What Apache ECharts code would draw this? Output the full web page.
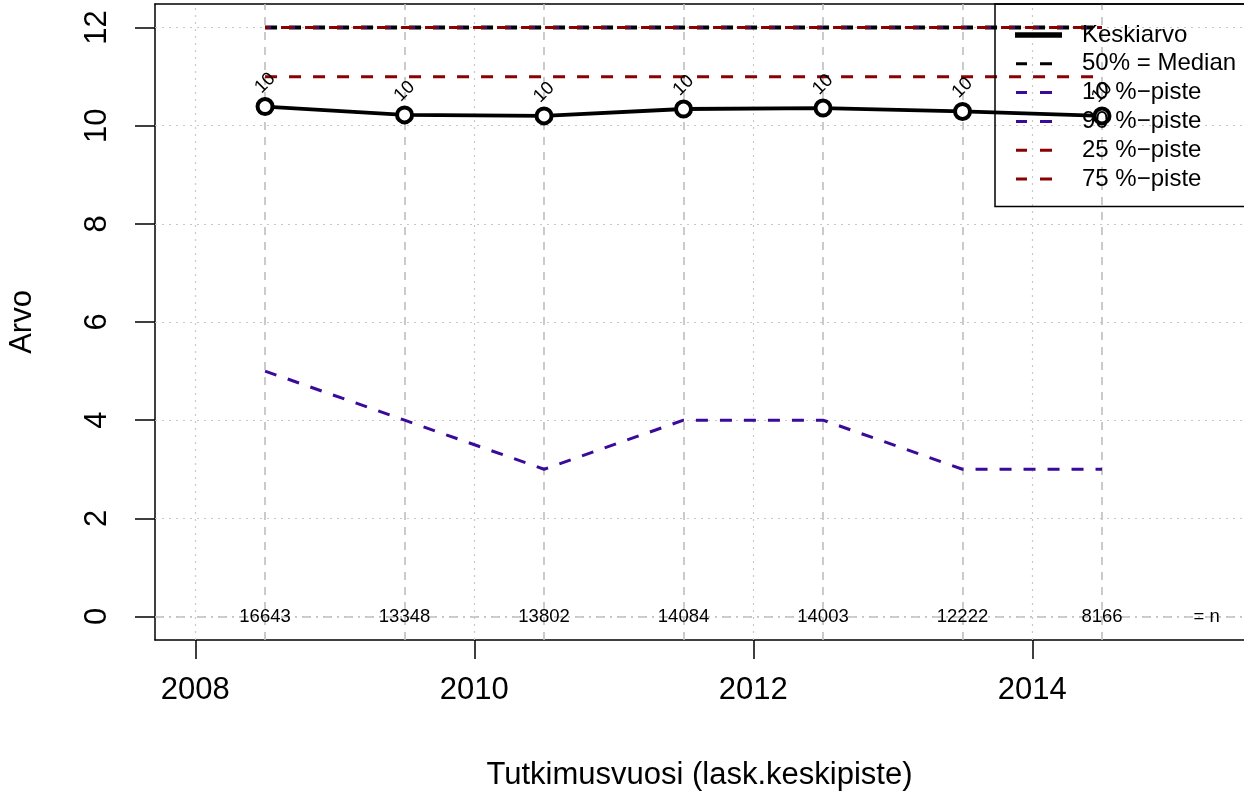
<!DOCTYPE html>
<html>
<head>
<meta charset="utf-8">
<script src="https://cdn.jsdelivr.net/npm/echarts@6/dist/echarts.min.js"></script>
<style>
html,body{margin:0;padding:0;background:#fff;}
#chart{width:1244px;height:794px;}
</style>
</head>
<body>
<div id="chart"></div>
<script>
// ---- data ----
const years = [2008.5, 2009.5, 2010.5, 2011.5, 2012.5, 2013.5, 2014.5];
const meanValues = [10.39, 10.22, 10.20, 10.34, 10.36, 10.29, 10.20];
const medianValues = [12, 12, 12, 12, 12, 12, 12];
const p10Values = [5, 4, 3, 4, 4, 3, 3];
const p90Values = [12, 12, 12, 12, 12, 12, 12];
const p25Values = [11, 11, 11, 11, 11, 11, 11];
const p75Values = [12, 12, 12, 12, 12, 12, 12];
const pointLabels = ['10', '10', '10', '10', '10', '10', '10'];
const nCounts = [16643, 13348, 13802, 14084, 14003, 12222, 8166];
const nSuffixX = 2015.25;
const nSuffixText = '= n';
const xTicks = [2008, 2010, 2012, 2014];
const yTicks = [0, 2, 4, 6, 8, 10, 12];
const xRange = [2007.711, 2015.518];
const yRange = [-0.48, 12.48];

const FONT = "'Liberation Sans', Arial, Helvetica, sans-serif";
const BLUE = '#3a0a9a';
const RED = '#8b0000';

const pairs = vals => years.map((x, i) => [x, vals[i]]);

const chart = echarts.init(document.getElementById('chart'), null, {renderer: 'canvas'});

const dashIcon = 'path://M0,0M62,6M1,1.5h11v3h-11zM25,1.5h12v3h-12z';
const solidIcon = 'path://M0,0M62,6M0,0.2h47v5.6h-47z';

const option = {
  animation: false,
  backgroundColor: '#fff',
  textStyle: {fontFamily: FONT},
  grid: {left: 155, right: 0, top: 4, bottom: 154, containLabel: false, outerBoundsMode: 'none'},
  legend: {
    orient: 'vertical',
    left: 995, top: 4,
    padding: [19, 40, 15.5, 20],
    itemWidth: 62, itemHeight: 6, itemGap: 4.8,
    borderColor: '#000', borderWidth: 1.5,
    backgroundColor: 'transparent',
    selectedMode: false,
    textStyle: {fontFamily: FONT, fontSize: 24, lineHeight: 24, color: '#000'},
    data: [
      {name: 'Keskiarvo', icon: solidIcon, itemStyle: {color: '#000', borderWidth: 0}},
      {name: '50% = Median', icon: dashIcon, itemStyle: {color: '#000', borderWidth: 0}},
      {name: '10 %\u2212piste', icon: dashIcon, itemStyle: {color: BLUE, borderWidth: 0}},
      {name: '90 %\u2212piste', icon: dashIcon, itemStyle: {color: BLUE, borderWidth: 0}},
      {name: '25 %\u2212piste', icon: dashIcon, itemStyle: {color: RED, borderWidth: 0}},
      {name: '75 %\u2212piste', icon: dashIcon, itemStyle: {color: RED, borderWidth: 0}}
    ]
  },
  xAxis: [{
    type: 'value', min: xRange[0], max: xRange[1],
    name: 'Tutkimusvuosi (lask.keskipiste)', nameLocation: 'middle', nameGap: 120,
    nameTextStyle: {fontFamily: FONT, fontSize: 31, color: '#000'},
    axisLine: {show: true, onZero: false, lineStyle: {color: '#000', width: 1.5}},
    axisTick: {show: true, length: 19, customValues: xTicks, lineStyle: {color: '#000', width: 1.5}},
    axisLabel: {show: true, customValues: xTicks, margin: 35, fontFamily: FONT, fontSize: 31, color: '#000',
      formatter: v => String(v)},
    splitLine: {show: false}
  }, {
    type: 'value', position: 'top', min: xRange[0], max: xRange[1],
    axisLine: {show: true, onZero: false, lineStyle: {color: '#000', width: 1.5}},
    axisTick: {show: false}, axisLabel: {show: false}, splitLine: {show: false}
  }],
  yAxis: {
    type: 'value', min: yRange[0], max: yRange[1],
    name: 'Arvo', nameLocation: 'middle', nameGap: 117,
    nameTextStyle: {fontFamily: FONT, fontSize: 31, color: '#000'},
    axisLine: {show: true, onZero: false, lineStyle: {color: '#000', width: 1.5}},
    axisTick: {show: true, length: 20, customValues: yTicks, lineStyle: {color: '#000', width: 1.5}},
    axisLabel: {show: true, customValues: yTicks, rotate: 90, margin: 42, fontFamily: FONT, fontSize: 31, color: '#000'},
    splitLine: {show: false}
  },
  series: [
    {
      name: 'gridlines', type: 'line', data: [], silent: true, z: 1,
      markLine: {
        silent: true, symbol: ['none', 'none'], z: 1, animation: false,
        label: {show: false},
        data: [
          ...yTicks.map(v => ({yAxis: v, lineStyle: {color: '#c8c8c8', width: 1.2, type: [2, 5]}})),
          ...xTicks.map(v => ({xAxis: v, lineStyle: {color: '#c8c8c8', width: 1.2, type: [2, 5]}})),
          ...years.map(v => ({xAxis: v, lineStyle: {color: '#bebebe', width: 1.6, type: [8, 7]}})),
          {yAxis: 0, lineStyle: {color: '#bebebe', width: 1.5, type: [9, 5, 2, 5]}}
        ]
      }
    },
    {
      name: 'Keskiarvo', type: 'line', data: pairs(meanValues), z: 3,
      symbol: 'circle', symbolSize: 15,
      lineStyle: {color: '#000', width: 3.8, type: 'solid'},
      itemStyle: {color: '#fff', borderColor: '#000', borderWidth: 4},
      label: {
        show: true, position: ['50%', -14], rotate: 45, align: 'center', verticalAlign: 'middle',
        fontFamily: FONT, fontSize: 18.5, color: '#000',
        formatter: p => pointLabels[p.dataIndex]
      }
    },
    {
      name: '50% = Median', type: 'line', data: pairs(medianValues), z: 3, symbol: 'none',
      lineStyle: {color: '#000', width: 4, type: [12, 12]}, itemStyle: {color: '#000'}
    },
    {
      name: '10 %\u2212piste', type: 'line', data: pairs(p10Values), z: 3, symbol: 'none',
      lineStyle: {color: BLUE, width: 3, type: [12, 12]}, itemStyle: {color: BLUE}
    },
    {
      name: '90 %\u2212piste', type: 'line', data: pairs(p90Values), z: 3, symbol: 'none',
      lineStyle: {color: BLUE, width: 3, type: [12, 12], dashOffset: 6}, itemStyle: {color: BLUE}
    },
    {
      name: '25 %\u2212piste', type: 'line', data: pairs(p25Values), z: 3, symbol: 'none',
      lineStyle: {color: RED, width: 3, type: [12, 12]}, itemStyle: {color: RED}
    },
    {
      name: '75 %\u2212piste', type: 'line', data: pairs(p75Values), z: 3, symbol: 'none',
      lineStyle: {color: RED, width: 3, type: [12, 12], dashOffset: 8}, itemStyle: {color: RED}
    },
    {
      name: 'nLabels', type: 'scatter', z: 4, silent: true,
      symbolSize: 0, itemStyle: {color: '#000'},
      data: [...years.map((x, i) => ({value: [x, 0], text: String(nCounts[i])})), {value: [nSuffixX, 0], text: nSuffixText}],
      label: {
        show: true, position: 'inside', fontFamily: FONT, fontSize: 18.5, color: '#000',
        textBorderWidth: 0, opacity: 1,
        formatter: p => p.data.text
      }
    }
  ]
};
chart.setOption(option);
</script>
</body>
</html>
